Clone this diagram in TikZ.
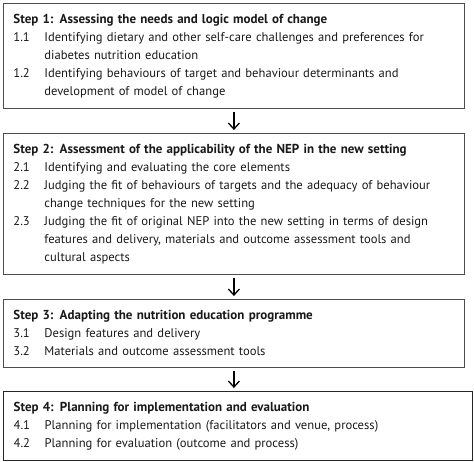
\documentclass[tikz,border=0pt]{standalone}
\usepackage{fontspec}
\setmainfont{PT Sans}
\usetikzlibrary{arrows.meta}
\newcommand{\stepitem}[2]{\par\noindent\makebox[31pt][l]{#1}#2}
\newcommand{\stepmore}[1]{\par\noindent\hspace*{31pt}#1}

\begin{document}
\begin{tikzpicture}[x=1pt,y=1pt,
	stepbox/.style={draw=black!70,line width=0.8pt,anchor=north west,inner xsep=10pt,inner ysep=0pt,
		text width=441pt,minimum height=#1,align=left,text=black!90,font=\fontsize{12.6}{18}\selectfont},
	nextstep/.style={-{Straight Barb[length=6pt,width=11pt,line width=1.3pt]},line width=1.3pt,shorten <=3pt,shorten >=3pt}]
	\useasboundingbox (0,0) rectangle (474,-461);
	\node[stepbox=105pt] (step1) at (3,-3) {\textbf{\fontsize{13}{18}\selectfont Step 1: Assessing the needs and logic model of change}
		\stepitem{1.1}{Identifying dietary and other self-care challenges and preferences for}
		\stepmore{diabetes nutrition education}
		\stepitem{1.2}{Identifying behaviours of target and behaviour determinants and}
		\stepmore{development of model of change}};
	\node[stepbox=141pt] (step2) at (3,-133) {\textbf{\fontsize{13}{18}\selectfont Step 2: Assessment of the applicability of the NEP in the new setting}
		\stepitem{2.1}{Identifying and evaluating the core elements}
		\stepitem{2.2}{Judging the fit of behaviours of targets and the adequacy of behaviour}
		\stepmore{change techniques for the new setting}
		\stepitem{2.3}{Judging the fit of original NEP into the new setting in terms of design}
		\stepmore{features and delivery, materials and outcome assessment tools and}
		\stepmore{cultural aspects}};
	\node[stepbox=68pt] (step3) at (3,-299) {\textbf{\fontsize{13}{18}\selectfont Step 3: Adapting the nutrition education programme}
		\stepitem{3.1}{Design features and delivery}
		\stepitem{3.2}{Materials and outcome assessment tools}};
	\node[stepbox=69pt,text width=449pt,draw=black!85,line width=1.3pt] (step4) at (3,-391) {\textbf{\fontsize{13}{18}\selectfont Step 4: Planning for implementation and evaluation}
		\stepitem{4.1}{Planning for implementation (facilitators and venue, process)}
		\stepitem{4.2}{Planning for evaluation (outcome and process)}};
	\draw[nextstep] (step1) -- (step2);
	\draw[nextstep] (step2) -- (step3);
	\draw[nextstep] (step3.south) -- (step3.south |- step4.north);
\end{tikzpicture}
\end{document}
